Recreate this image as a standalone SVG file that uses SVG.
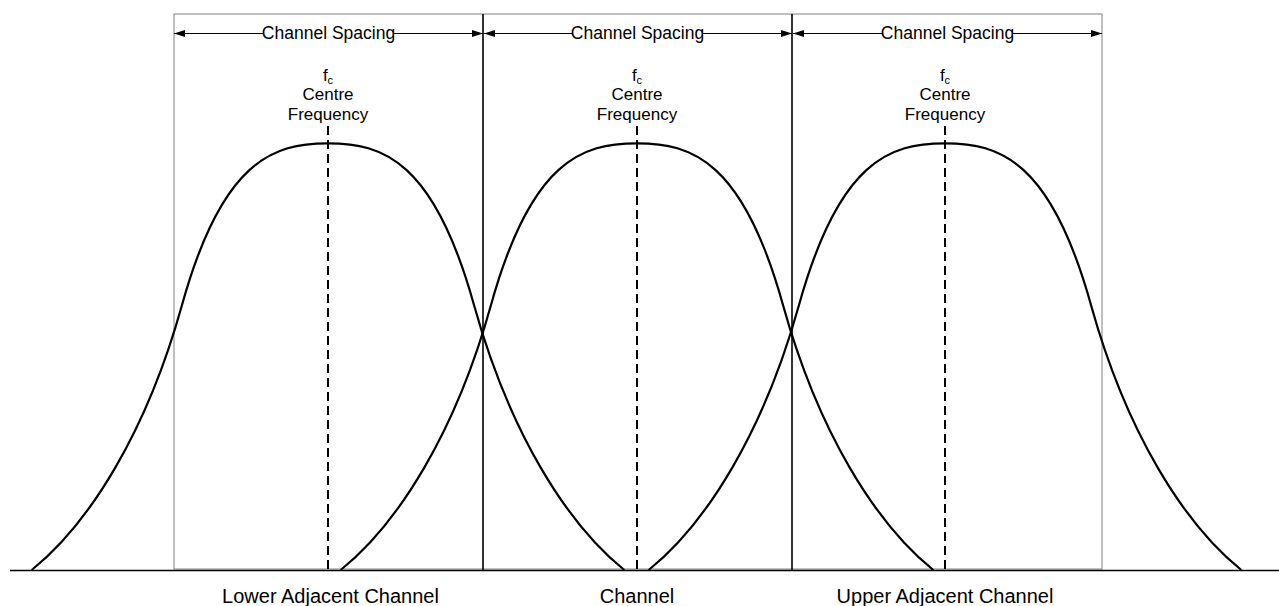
<svg xmlns="http://www.w3.org/2000/svg" xmlns:xlink="http://www.w3.org/1999/xlink" width="1279" height="606" viewBox="0 0 1279 606">
<style>
  .curve{fill:none;stroke:#000;stroke-width:2.2}
  .dash{stroke:#000;stroke-width:2;stroke-dasharray:9 5}
  .frame{fill:none;stroke:#808080;stroke-width:1}
  .divider{stroke:#000;stroke-width:1.6}
  .axis{stroke:#000;stroke-width:1.6}
  .dim{stroke:#000;stroke-width:1}
  text{font-family:"Liberation Sans",Arial,sans-serif;fill:#000;text-anchor:middle}
  .t17{font-size:17px}
  .t18{font-size:17.5px}
  .t20{font-size:20px}
  .sub{font-size:11px}
</style>
<defs>
  <marker id="ah" viewBox="0 0 11 7" refX="11" refY="3.5" markerWidth="11" markerHeight="7" orient="auto" markerUnits="userSpaceOnUse">
    <path d="M0,0 L11,3.5 L0,7 z" fill="#000"/>
  </marker>
  <path id="bell" class="curve" d="M31.7,570 C90,523 147,431 182,305 C222,161 273,143.3 328,143.3 C383,143.3 434,161 474,305 C509,431 566,523 624.3,570"/>
</defs>
<rect width="1279" height="606" fill="#fff"/>
<rect id="frame" class="frame" x="174" y="14" width="928" height="555"/>
<line class="divider" x1="483" y1="14" x2="483" y2="570"/>
<line class="divider" x1="792" y1="14" x2="792" y2="570"/>
<line id="axis" class="axis" x1="10" y1="570.5" x2="1279" y2="570.5"/>

<g id="lower-adjacent-channel">
  <use xlink:href="#bell" x="0"/>
  <line class="dash" x1="328" y1="126" x2="328" y2="570"/>
  <text x="328" y="81" class="t17">f<tspan class="sub" dy="3">c</tspan></text>
  <text x="328" y="100" class="t17">Centre</text>
  <text x="328" y="119.5" class="t17">Frequency</text>
  <text x="330.5" y="603" class="t20">Lower Adjacent Channel</text>
</g>
<g id="channel">
  <use xlink:href="#bell" x="309"/>
  <line class="dash" x1="637" y1="126" x2="637" y2="570"/>
  <text x="637" y="81" class="t17">f<tspan class="sub" dy="3">c</tspan></text>
  <text x="637" y="100" class="t17">Centre</text>
  <text x="637" y="119.5" class="t17">Frequency</text>
  <text x="637" y="603" class="t20">Channel</text>
</g>
<g id="upper-adjacent-channel">
  <use xlink:href="#bell" x="617"/>
  <line class="dash" x1="945" y1="126" x2="945" y2="570"/>
  <text x="945" y="81" class="t17">f<tspan class="sub" dy="3">c</tspan></text>
  <text x="945" y="100" class="t17">Centre</text>
  <text x="945" y="119.5" class="t17">Frequency</text>
  <text x="945" y="603" class="t20">Upper Adjacent Channel</text>
</g>

<g id="connectors">
  <line class="dim" x1="263" y1="33.5" x2="174" y2="33.5" marker-end="url(#ah)"/>
  <line class="dim" x1="394" y1="33.5" x2="483" y2="33.5" marker-end="url(#ah)"/>
  <text x="328.5" y="39" class="t18">Channel Spacing</text>
  <line class="dim" x1="572" y1="33.5" x2="484" y2="33.5" marker-end="url(#ah)"/>
  <line class="dim" x1="703" y1="33.5" x2="792" y2="33.5" marker-end="url(#ah)"/>
  <text x="637.5" y="39" class="t18">Channel Spacing</text>
  <line class="dim" x1="882" y1="33.5" x2="793" y2="33.5" marker-end="url(#ah)"/>
  <line class="dim" x1="1013" y1="33.5" x2="1102" y2="33.5" marker-end="url(#ah)"/>
  <text x="947.5" y="39" class="t18">Channel Spacing</text>
</g>
</svg>
